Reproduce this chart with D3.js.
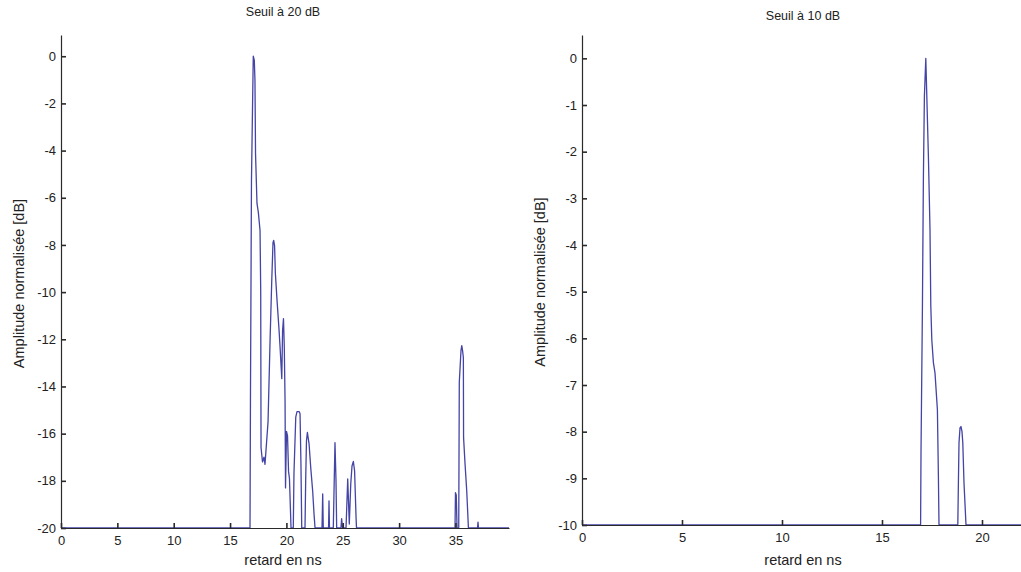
<!DOCTYPE html>
<html>
<head>
<meta charset="utf-8">
<script src="https://cdn.jsdelivr.net/npm/d3@7"></script>
<style>
  html, body { margin: 0; padding: 0; background: #fff; }
  svg { display: block; font-family: "Liberation Sans", Arial, sans-serif; }
</style>
</head>
<body>
<svg id="fig" width="1021" height="572"></svg>
<script>
// Impulse response, threshold 20 dB: delay (ns) and normalised amplitude (dB)
const delay20 = [0, 16.77, 16.81, 16.90, 16.99, 17.06, 17.15, 17.21, 17.26, 17.39, 17.51, 17.66, 17.72, 17.75,
  17.88, 18.01, 18.10, 18.37, 18.55, 18.70, 18.81, 18.87, 18.95, 19.02, 19.17, 19.35, 19.43, 19.59, 19.66,
  19.74, 19.81, 19.88, 19.92, 20.01, 20.10, 20.19, 20.27, 20.41, 20.61, 20.67, 20.83, 20.94, 21.14, 21.21,
  21.29, 21.36, 21.65, 21.71, 21.78, 21.86, 22.01, 22.16, 22.33, 22.45, 22.54, 23.16, 23.22, 23.27, 23.74,
  23.78, 23.82, 24.16, 24.31, 24.40, 24.46, 24.84, 24.90, 24.98, 25.29, 25.44, 25.58, 25.71, 25.82, 25.94,
  26.05, 26.18, 26.22, 34.96, 35.00, 35.07, 35.14, 35.29, 35.34, 35.49, 35.56, 35.63, 35.70, 35.72, 35.85,
  36.00, 36.15, 36.96, 37.00, 37.04, 39.75];
const amp20 = [-20, -20, -14.6, -5.27, -2.29, 0.0, -0.17, -1.02, -4.12, -6.24, -6.62, -7.39, -9.94, -16.6,
  -17.2, -17.0, -17.3, -15.5, -12.06, -9.51, -7.9, -7.81, -8.03, -9.2, -10.36, -11.63, -12.27, -13.67, -11.63,
  -11.12, -12.27, -14.6, -18.3, -15.9, -16.1, -17.6, -17.9, -20, -20, -17.7, -15.3, -15.07, -15.07, -15.16,
  -17.28, -20, -20, -18.0, -16.3, -15.95, -16.43, -17.45, -18.43, -19.4, -20, -20, -18.55, -20, -20,
  -18.85, -20, -20, -16.38, -18.0, -20, -20, -19.6, -20, -20, -17.92, -19.83, -18.13, -17.37, -17.18,
  -17.58, -19.56, -20, -20, -18.5, -18.6, -20, -20, -13.83, -12.48, -12.27, -12.48, -12.77, -16.17, -17.28,
  -18.43, -20, -20, -19.75, -20, -20];

// Same response, threshold 10 dB
const delay10 = [0, 16.93, 16.95, 17.02, 17.07, 17.12, 17.19, 17.24, 17.32, 17.40, 17.44, 17.49, 17.57, 17.65,
  17.77, 17.82, 17.85, 18.79, 18.82, 18.85, 18.90, 18.95, 19.00, 19.04, 19.10, 19.20, 22.2];
const amp10 = [-10, -10, -8.45, -5.39, -2.53, -0.81, 0.0, -0.81, -2.1, -3.67, -5.3, -6.03, -6.52, -6.74,
  -7.53, -8.96, -10, -10, -9.1, -8.24, -7.92, -7.89, -8.0, -8.24, -9.1, -10, -10];

// Tick values
const xTicks20 = [0, 5, 10, 15, 20, 25, 30, 35];
const yTicks20 = [0, -2, -4, -6, -8, -10, -12, -14, -16, -18, -20];
const xTicks10 = [0, 5, 10, 15, 20];
const yTicks10 = [0, -1, -2, -3, -4, -5, -6, -7, -8, -9, -10];

const titles = ["Seuil à 20 dB", "Seuil à 10 dB"];
const xLabel = "retard en ns";
const yLabel = "Amplitude normalisée [dB]";

const svg = d3.select("#fig");
const lineColor = "#4444a6";
const axisColor = "#2a2a2a";
const textColor = "#222";

function panel(cfg) {
  const x = d3.scaleLinear().domain(cfg.xDomain).range(cfg.xRange);
  const y = d3.scaleLinear().domain(cfg.yDomain).range(cfg.yRange);
  const g = svg.append("g");

  // trace first, axes drawn over it
  const pts = cfg.delay.map((d, i) => [d, cfg.amp[i]]);
  g.append("path")
    .datum(pts)
    .attr("fill", "none")
    .attr("stroke", lineColor)
    .attr("stroke-width", 1.3)
    .attr("stroke-linejoin", "round")
    .attr("d", d3.line().x(d => x(d[0])).y(d => y(d[1])));

  const xAxis = g.append("g")
    .attr("transform", `translate(0,${cfg.yRange[0]})`)
    .call(d3.axisBottom(x).tickValues(cfg.xTicks).tickFormat(d => String(d))
      .tickSizeInner(-5).tickSizeOuter(0).tickPadding(8));
  const yAxis = g.append("g")
    .attr("transform", `translate(${cfg.xRange[0]},0)`)
    .call(d3.axisLeft(y).tickValues(cfg.yTicks).tickFormat(d => String(d))
      .tickSizeInner(-5).tickSizeOuter(0).tickPadding(5));
  [xAxis, yAxis].forEach(a => {
    a.select(".domain").attr("stroke", axisColor).attr("stroke-width", 1.2);
    a.selectAll(".tick line").attr("stroke", axisColor).attr("stroke-width", 1.6);
    a.selectAll(".tick text")
      .attr("font-family", "Liberation Sans, Arial, sans-serif")
      .attr("font-size", 13).attr("fill", textColor);
  });

  const cx = cfg.labelCenter;
  g.append("text")
    .attr("x", cx).attr("y", cfg.titleY)
    .attr("text-anchor", "middle").attr("font-size", 12.5).attr("fill", textColor)
    .text(cfg.title);
  g.append("text")
    .attr("x", cx).attr("y", 565)
    .attr("text-anchor", "middle").attr("font-size", 14.5).attr("fill", textColor)
    .text(xLabel);
  g.append("text")
    .attr("transform", `translate(${cfg.yLabelX},${(cfg.yRange[0] + cfg.yRange[1]) / 2 + 2}) rotate(-90)`)
    .attr("text-anchor", "middle").attr("font-size", 14.5).attr("fill", textColor)
    .text(yLabel);
}

panel({
  delay: delay20, amp: amp20, xTicks: xTicks20, yTicks: yTicks20,
  xDomain: [0, 39.75], xRange: [61, 509],
  yDomain: [-20, 0.9], yRange: [528, 35],
  title: titles[0], titleY: 16, labelCenter: 283, yLabelX: 24
});
panel({
  delay: delay10, amp: amp10, xTicks: xTicks10, yTicks: yTicks10,
  xDomain: [0, 22.2], xRange: [582, 1026],
  yDomain: [-10, 0.5], yRange: [525, 35],
  title: titles[1], titleY: 20, labelCenter: 803, yLabelX: 545
});
</script>
</body>
</html>
